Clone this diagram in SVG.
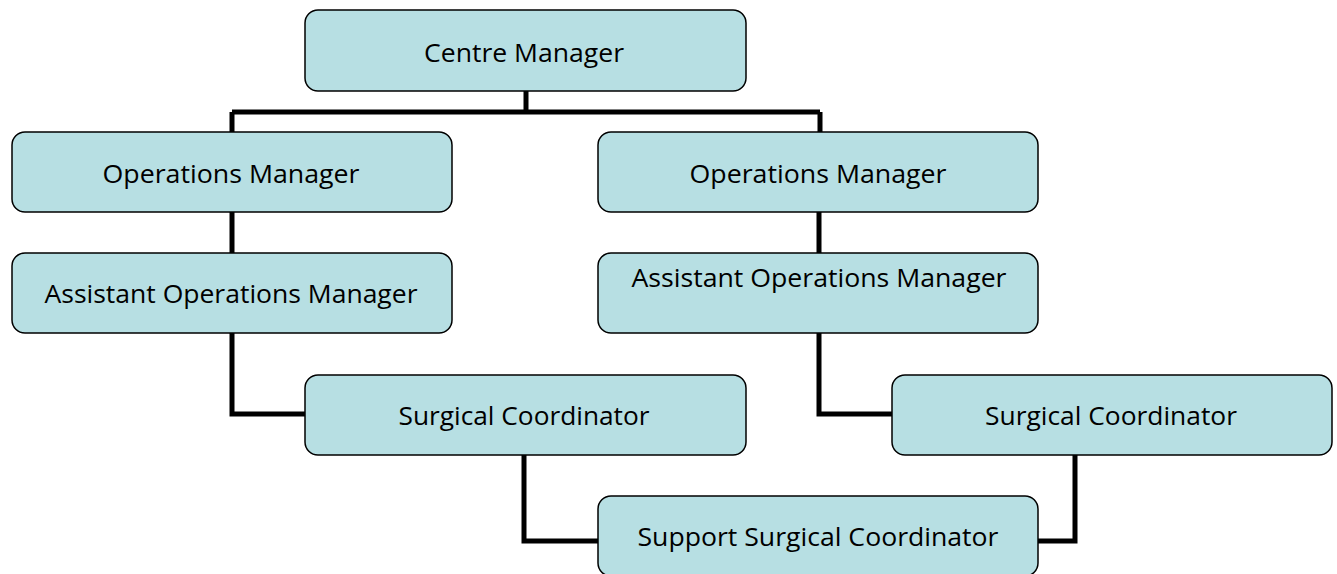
<svg xmlns="http://www.w3.org/2000/svg" width="1337" height="574" viewBox="0 0 1337 574">
<style>
.box{fill:#b7dfe3;stroke:#000;stroke-width:1.5}
.lbl{font-family:"Open Sans","Liberation Sans",sans-serif;font-size:25px;fill:#000;text-anchor:middle}
.con{fill:none;stroke:#000;stroke-width:5;stroke-linejoin:miter}
</style>
<rect width="1337" height="574" fill="#fff"/>
<g id="connectors">
<path class="con" d="M526,91 V112 M232,112 H820 M232,112 V132 M820,112 V132"/>
<path class="con" d="M232,212 V253 M819,212 V253"/>
<path class="con" d="M232,333 V414 H305"/>
<path class="con" d="M819,333 V414 H892"/>
<path class="con" d="M524,455 V541 H598"/>
<path class="con" d="M1075,455 V541 H1038"/>
</g>
<g id="centre-manager"><rect class="box" x="305" y="10" width="441" height="81" rx="13"/><text class="lbl" x="524" y="62" textLength="200" lengthAdjust="spacingAndGlyphs">Centre Manager</text></g>
<g id="ops-manager-left"><rect class="box" x="12" y="132" width="440" height="80" rx="13"/><text class="lbl" x="231" y="183" textLength="257" lengthAdjust="spacingAndGlyphs">Operations Manager</text></g>
<g id="ops-manager-right"><rect class="box" x="598" y="132" width="440" height="80" rx="13"/><text class="lbl" x="818" y="183" textLength="257" lengthAdjust="spacingAndGlyphs">Operations Manager</text></g>
<g id="asst-ops-left"><rect class="box" x="12" y="253" width="440" height="80" rx="13"/><text class="lbl" x="231" y="303" textLength="373" lengthAdjust="spacingAndGlyphs">Assistant Operations Manager</text></g>
<g id="asst-ops-right"><rect class="box" x="598" y="253" width="440" height="80" rx="13"/><text class="lbl" x="819" y="287" textLength="375" lengthAdjust="spacingAndGlyphs">Assistant Operations Manager</text></g>
<g id="surg-coord-left"><rect class="box" x="305" y="375" width="441" height="80" rx="13"/><text class="lbl" x="524" y="425" textLength="251" lengthAdjust="spacingAndGlyphs">Surgical Coordinator</text></g>
<g id="surg-coord-right"><rect class="box" x="892" y="375" width="440" height="80" rx="13"/><text class="lbl" x="1111" y="425" textLength="252" lengthAdjust="spacingAndGlyphs">Surgical Coordinator</text></g>
<g id="support-surg-coord"><rect class="box" x="598" y="496" width="440" height="80" rx="13"/><text class="lbl" x="818" y="546" textLength="361" lengthAdjust="spacingAndGlyphs">Support Surgical Coordinator</text></g>
</svg>
